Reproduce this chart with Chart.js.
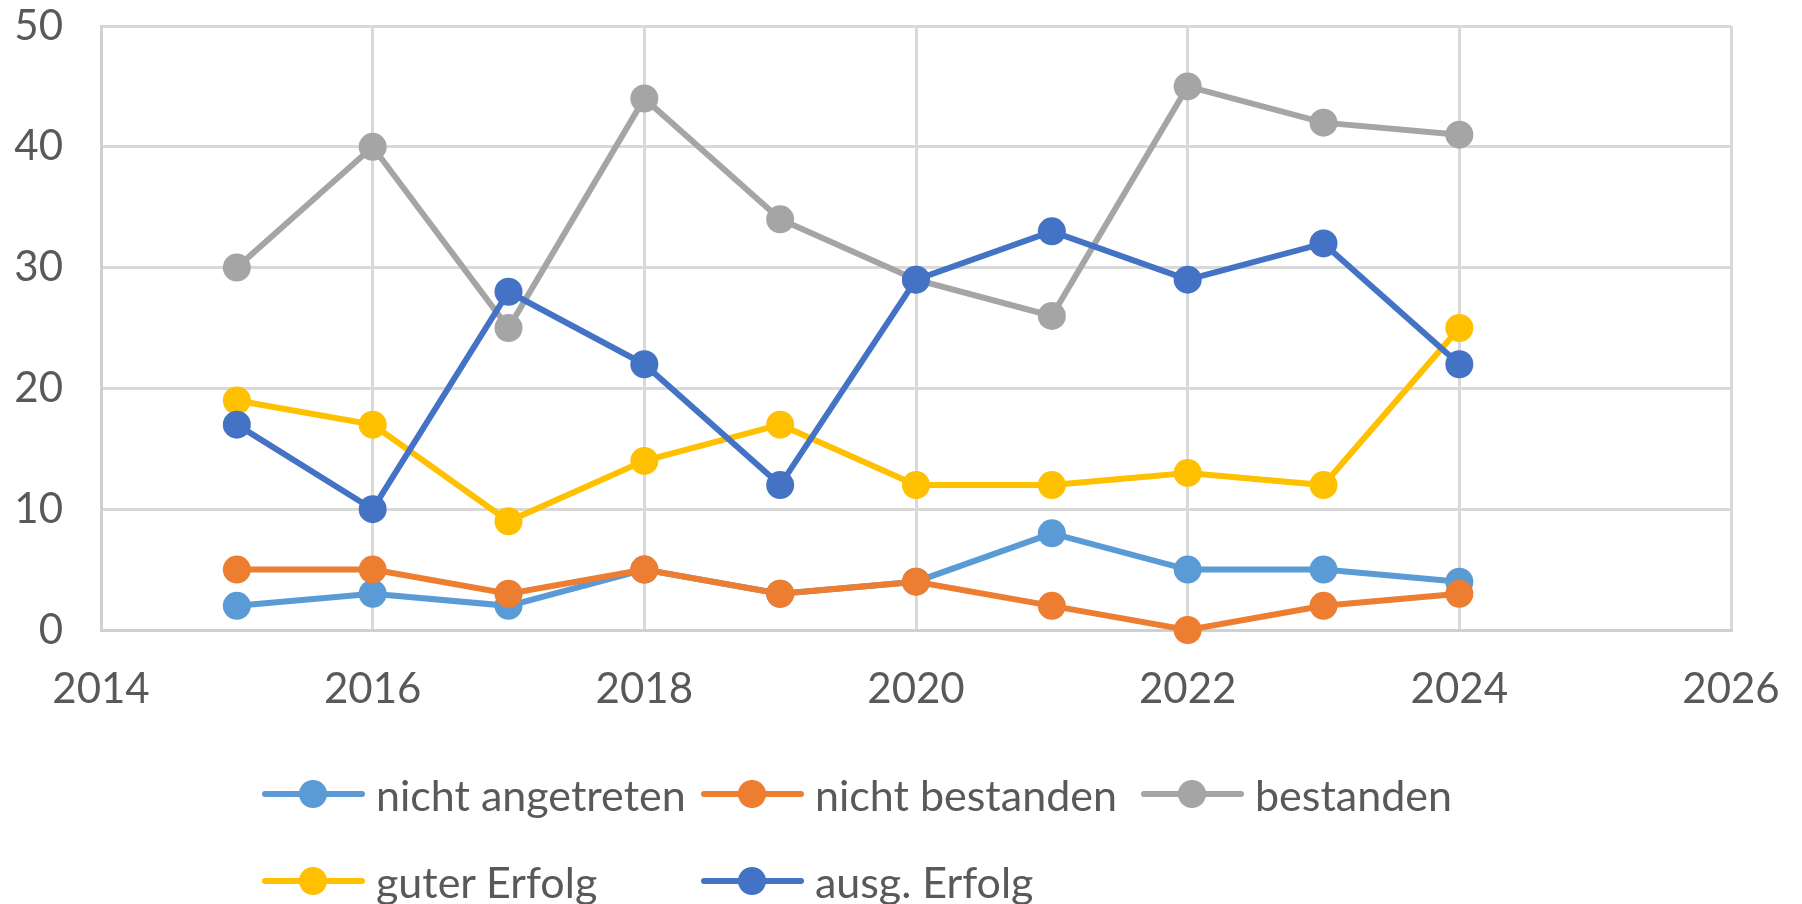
<!DOCTYPE html>
<html>
<head>
<meta charset="utf-8">
<script src="https://cdn.jsdelivr.net/npm/chart.js@4/dist/chart.umd.min.js"></script>
<style>
  html, body { margin: 0; padding: 0; background: #fff; }
  #wrap { position: relative; width: 1802px; height: 904px; }
  #c { position: absolute; left: 0; top: 0; }
  .lg { position: absolute; height: 44px; display: flex; align-items: center; font-family: Lato, "Open Sans", sans-serif; font-size: 43px; color: #595959; white-space: nowrap; }
  .mk { position: relative; width: 103px; height: 44px; margin-right: 11px; }
  .mk .ln { position: absolute; left: 0; right: 0; top: 19px; height: 6px; border-radius: 3px; }
  .mk .dt { position: absolute; left: 37px; top: 8px; width: 28px; height: 28px; border-radius: 50%; }
</style>
</head>
<body>
<div id="wrap">
  <canvas id="c" width="1802" height="904"></canvas>
</div>
<script>
const years = [2015, 2016, 2017, 2018, 2019, 2020, 2021, 2022, 2023, 2024];
const seriesNames = ["nicht angetreten", "nicht bestanden", "bestanden", "guter Erfolg", "ausg. Erfolg"];
const nichtAngetreten = [2, 3, 2, 5, 3, 4, 8, 5, 5, 4];
const nichtBestanden  = [5, 5, 3, 5, 3, 4, 2, 0, 2, 3];
const bestanden       = [30, 40, 25, 44, 34, 29, 26, 45, 42, 41];
const guterErfolg     = [19, 17, 9, 14, 17, 12, 12, 13, 12, 25];
const ausgErfolg      = [17, 10, 28, 22, 12, 29, 33, 29, 32, 22];
const xTicks = [2014, 2016, 2018, 2020, 2022, 2024, 2026];
const yTicks = [0, 10, 20, 30, 40, 50];

const colors = ["#5B9BD5", "#ED7D31", "#A5A5A5", "#FFC000", "#4472C4"];
const allValues = [nichtAngetreten, nichtBestanden, bestanden, guterErfolg, ausgErfolg];

const datasets = allValues.map((vals, i) => ({
  label: seriesNames[i],
  data: vals.map((v, k) => ({ x: years[k], y: v })),
  borderColor: colors[i],
  backgroundColor: colors[i],
  pointBackgroundColor: colors[i],
  pointBorderColor: colors[i],
  borderWidth: 6,
  pointRadius: 14,
  pointBorderWidth: 0,
  pointHoverRadius: 14,
  tension: 0,
  clip: false,
  order: allValues.length - 1 - i
}));

const tickFont = { family: "Lato, 'Open Sans', sans-serif", size: 42 };

new Chart(document.getElementById('c'), {
  type: 'line',
  data: { datasets },
  options: {
    responsive: false,
    animation: false,
    events: [],
    layout: { padding: { left: 0, right: 71, top: 26, bottom: 174 } },
    plugins: { legend: { display: false }, tooltip: { enabled: false } },
    scales: {
      x: {
        type: 'linear',
        min: xTicks[0], max: xTicks[xTicks.length - 1],
        afterBuildTicks: (s) => { s.ticks = xTicks.map(v => ({ value: v })); },
        afterFit: (s) => { s.height = 100; s.paddingLeft = 0; s.paddingRight = 0; },
        grid: { color: '#d9d9d9', lineWidth: 3, drawTicks: false },
        border: { color: '#d0d0d0', width: 3 },
        ticks: { color: '#595959', font: tickFont, padding: 34, maxRotation: 0, callback: v => String(v) }
      },
      y: {
        min: yTicks[0], max: yTicks[yTicks.length - 1],
        afterBuildTicks: (s) => { s.ticks = yTicks.map(v => ({ value: v })); },
        afterFit: (s) => { s.width = 101; s.paddingTop = 0; s.paddingBottom = 0; },
        grid: { color: '#d9d9d9', lineWidth: 3, drawTicks: false },
        border: { color: '#d0d0d0', width: 3 },
        ticks: { color: '#595959', font: tickFont, padding: 38 }
      }
    }
  }
});

// Legend (Excel-style grid layout)
const legendPos = [
  { x: 262, y: 794 }, { x: 701, y: 794 }, { x: 1141, y: 794 },
  { x: 262, y: 881 }, { x: 701, y: 881 }
];
const wrap = document.getElementById('wrap');
seriesNames.forEach((name, i) => {
  const d = document.createElement('div');
  d.className = 'lg';
  d.style.left = legendPos[i].x + 'px';
  d.style.top = (legendPos[i].y - 22) + 'px';
  d.innerHTML = '<div class="mk"><div class="ln" style="background:' + colors[i] + '"></div><div class="dt" style="background:' + colors[i] + '"></div></div><span></span>';
  d.querySelector('span').textContent = name;
  wrap.appendChild(d);
});
</script>
</body>
</html>
